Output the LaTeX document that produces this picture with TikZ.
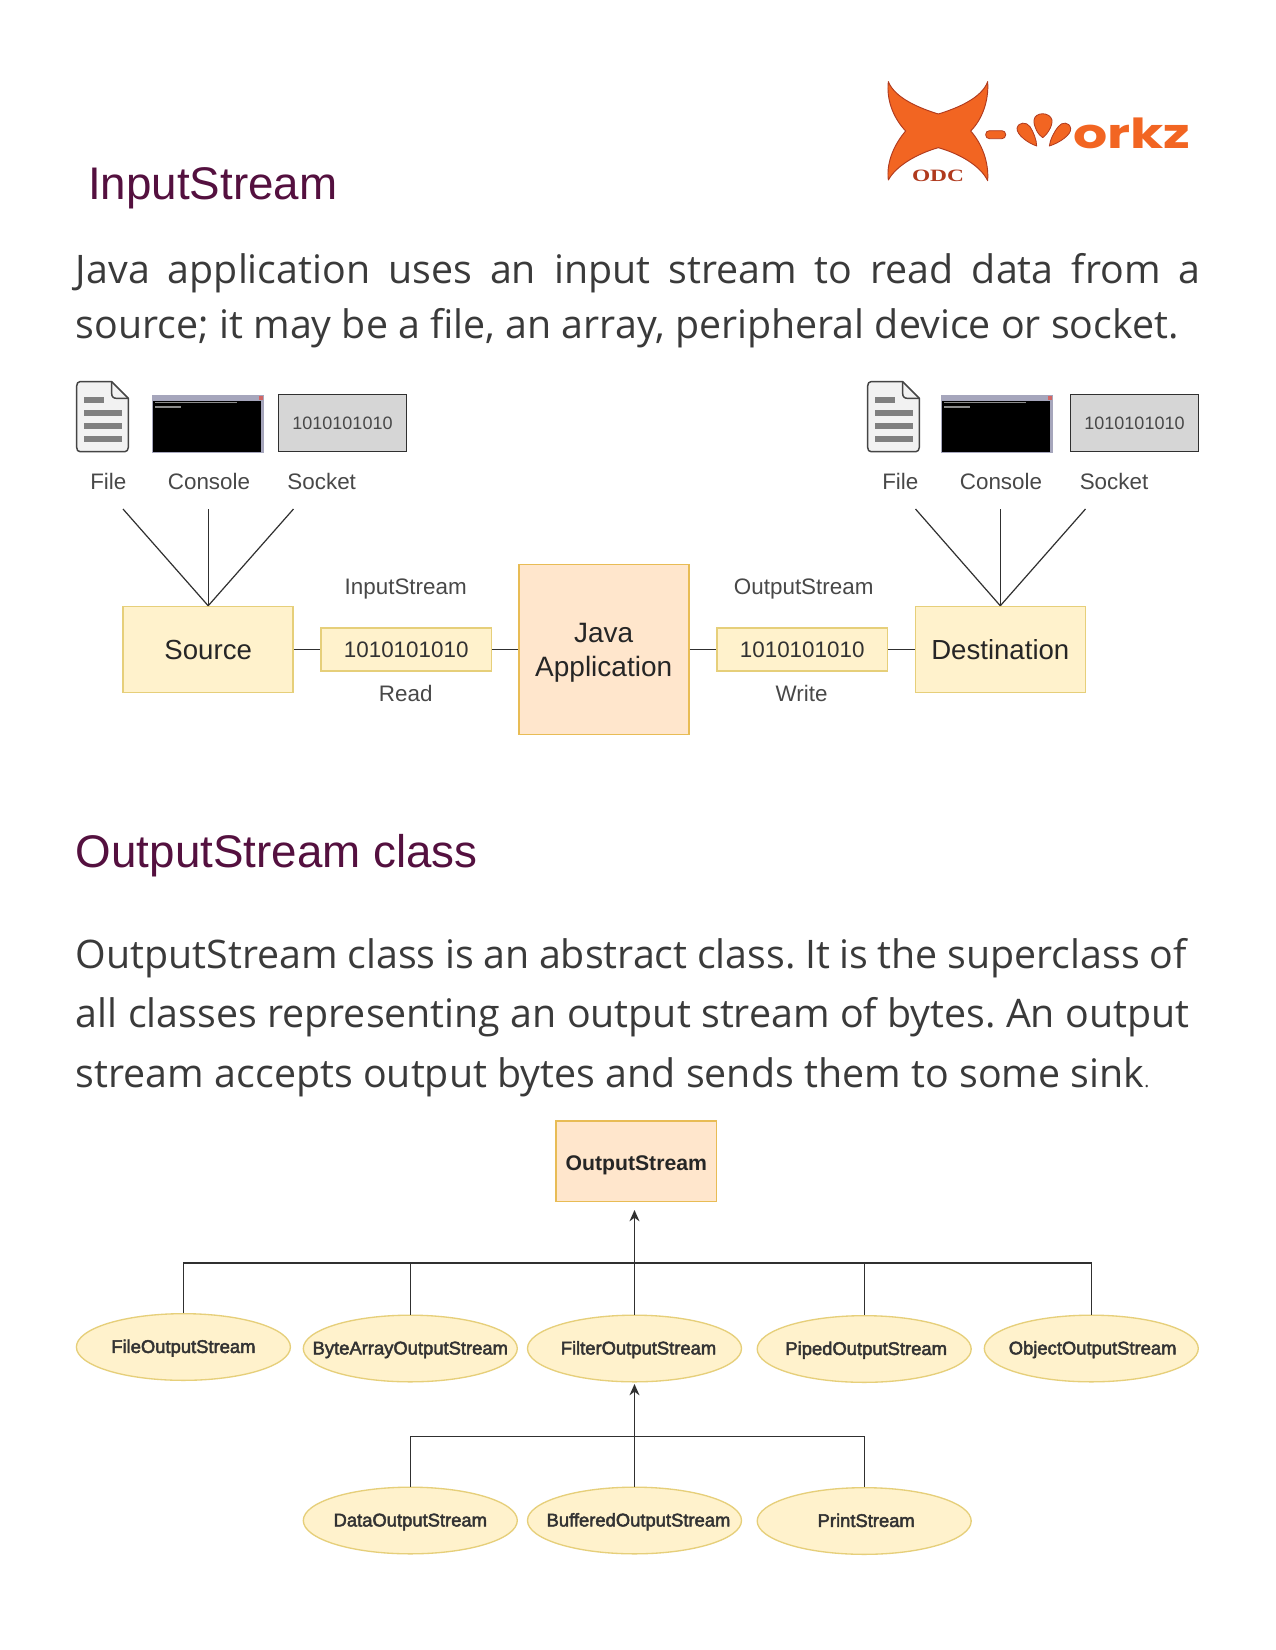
\documentclass[tikz,border=0pt]{standalone}
\usepackage{fontspec}
\usetikzlibrary{arrows.meta,shapes.geometric}
\setmainfont{Liberation Sans}
\newfontfamily\bodyfont{Open Sans}
\newfontfamily\medfont[FakeBold=2.5]{Liberation Sans}
\newfontfamily\logofont[Scale=1]{Poppins Bold}
\newfontfamily\odcfont{Liberation Serif Bold}
\definecolor{headc}{HTML}{54103F}
\definecolor{bodyc}{HTML}{3A3A3A}
\definecolor{labelc}{HTML}{484848}
\definecolor{yfill}{HTML}{FFF2CC}
\definecolor{ydraw}{HTML}{E6CF7A}
\definecolor{ofill}{HTML}{FFE6CC}
\definecolor{odraw}{HTML}{E8BC55}
\definecolor{linec}{HTML}{303030}
\definecolor{logoc}{HTML}{F26522}
\definecolor{logod}{HTML}{B03A1E}
\newcommand{\elltext}[2][0pt]{\makebox[0pt]{\hspace{#1}#2}}
\tikzset{
  x=0.75pt,y=-0.75pt,
  heading/.style={anchor=base west,inner sep=0,text=headc,font=\fontsize{34.3}{40}\selectfont},
  bodyline/.style={anchor=base west,inner sep=0,text=bodyc,font=\bodyfont\fontsize{29.5}{36}\selectfont\frenchspacing},
  lbl/.style={inner sep=0,text=labelc,font=\fontsize{16.8}{20}\selectfont},
  yellowbox/.style={draw=ydraw,fill=yfill,line width=1.1pt,inner sep=0,align=center,text=black!85},
  orangebox/.style={draw=odraw,fill=ofill,line width=1.2pt,inner sep=0,align=center,text=black!85},
  ell/.style={ellipse,draw=ydraw,fill=yfill,line width=1pt,inner sep=0,minimum width=160.5pt,minimum height=50pt,text height=11.5pt,text depth=2.6pt,text=black!80,font=\medfont\fontsize{13.8}{16}\selectfont},
  conn/.style={draw=linec,line width=0.9pt},
  arrowconn/.style={conn,-{Stealth[length=8.5pt,width=7.5pt]}},
  fileicon/.pic={
    \begin{scope}[x=0.25pt,y=-0.25pt]
      \path[draw=linec!90,fill=black!5,line width=1.1pt,line join=round]
        (60,65) -- (155,65) -- (205,115) -- (205,262) .. controls (205,270) and (200,275) .. (195,275)
        -- (60,275) .. controls (54,275) and (50,270) .. (50,262) -- (50,78) .. controls (50,70) and (54,65) .. (60,65) -- cycle;
      \draw[linec!90,line width=1.1pt,line join=round] (155,65) -- (155,100) .. controls (155,110) and (160,115) .. (170,115) -- (205,115);
      \fill[black!50] (72,111) rectangle (132,129);
      \fill[black!50] (72,149) rectangle (185,167);
      \fill[black!50] (72,188) rectangle (185,206);
      \fill[black!50] (72,227) rectangle (185,245);
    \end{scope}
  },
  consoleicon/.pic={
    \begin{scope}[x=0.25pt,y=-0.25pt]
      \fill[blue!25!black!35] (275,105) rectangle (612,278);
      \fill[black] (279,122) rectangle (603,275);
      \fill[red!70!black!60] (598,107) rectangle (610,120);
      \fill[black!45] (284,125) rectangle (530,130);
      \fill[black!45] (284,139) rectangle (362,144);
    \end{scope}
  }
}
\begin{document}
\begin{tikzpicture}
\useasboundingbox (0,0) rectangle (1275,1650);
\fill[white] (0,0) rectangle (1275,1650);

% logo
\begin{scope}[shift={(840,60)},x=0.25pt,y=-0.25pt]
  \path[fill=logoc,draw=logod,line width=0.7pt,line join=round]
    (145,65) .. controls (165,115) and (240,145) .. (295,162)
    .. controls (350,145) and (425,115) .. (443,65)
    .. controls (447,125) and (425,180) .. (392,213)
    .. controls (425,250) and (447,305) .. (443,362)
    .. controls (420,315) and (355,280) .. (295,263)
    .. controls (235,280) and (170,315) .. (145,360)
    .. controls (138,305) and (165,250) .. (197,213)
    .. controls (165,180) and (138,125) .. (145,65) -- cycle;
  \path[fill=logoc,draw=logod,line width=0.6pt,rounded corners=2.8pt] (437,212) rectangle (497,236);
  \path[fill=logoc,draw=logod,line width=0.6pt,line join=round]
    (531,205) .. controls (535,185) and (560,185) .. (570,200) .. controls (580,215) and (590,240) .. (590,258)
    .. controls (565,250) and (530,225) .. (531,205) -- cycle;
  \path[fill=logoc,draw=logod,line width=0.6pt,line join=round]
    (582,180) .. controls (585,155) and (630,155) .. (636,180) .. controls (638,200) and (620,225) .. (608,233)
    .. controls (595,225) and (580,200) .. (582,180) -- cycle;
  \path[fill=logoc,draw=logod,line width=0.6pt,line join=round]
    (692,205) .. controls (688,185) and (665,185) .. (655,200) .. controls (642,215) and (630,240) .. (628,258)
    .. controls (655,250) and (695,225) .. (692,205) -- cycle;
  \node[inner sep=0,text=logod] (odc) at (294,347) {\odcfont\scalebox{1.35}[1]{\fontsize{13}{15}\selectfont ODC}};
\end{scope}
\node[anchor=base west,inner sep=0,text=logoc] (orkz) at (1073,148) {\logofont\scalebox{1.3}[1]{\fontsize{31}{34}\selectfont orkz}};

% headings and paragraphs
\node[heading] (h1) at (88,199) {InputStream};
\node[bodyline] (p1a) at (75.7,283) {\makebox[843.5pt][s]{Java application uses an input stream to read data from a}};
\node[bodyline] (p1b) at (75.7,338) {\makebox[827pt][s]{source; it may be a file, an array, peripheral device or socket.}};
\node[heading] (h2) at (75.7,867) {OutputStream class};
\node[bodyline] (p2a) at (75.7,968) {\makebox[833pt][s]{OutputStream class is an abstract class. It is the superclass of}};
\node[bodyline] (p2b) at (75.7,1027) {\makebox[835pt][s]{all classes representing an output stream of bytes. An output}};
\node[bodyline] (p2c) at (75.7,1087) {\makebox[805pt][s]{stream accepts output bytes and sends them to some sink{\fontsize{14}{16}\selectfont .}}};

% left sources
\pic at (60,360) {fileicon};
\pic at (60,360) {consoleicon};
\node[draw=linec,fill=black!16,line width=1pt,minimum width=96pt,minimum height=43pt,inner sep=0,text=labelc,font=\fontsize{13.5}{16}\selectfont] (sockL) at (342.5,423) {1010101010};
\node[lbl] (fileL) at (108.3,481) {File};
\node[lbl] (consL) at (209,481) {Console};
\node[lbl] (sockLbl) at (321.7,481) {Socket};

% right destinations
\pic at (851,360) {fileicon};
\pic at (849,360) {consoleicon};
\node[draw=linec,fill=black!16,line width=1pt,minimum width=96pt,minimum height=43pt,inner sep=0,text=labelc,font=\fontsize{13.5}{16}\selectfont] (sockR) at (1134.5,423) {1010101010};
\node[lbl] (fileR) at (900.3,481) {File};
\node[lbl] (consR) at (1001,481) {Console};
\node[lbl] (sockRLbl) at (1114,481) {Socket};

% stream row
\node[yellowbox,minimum width=127.5pt,minimum height=64.5pt,font=\fontsize{20.7}{25}\selectfont] (source) at (208.2,649.5) {Source};
\node[yellowbox,minimum width=128pt,minimum height=32pt,text=labelc!70!black,text height=12pt,text depth=0pt,font=\fontsize{16.8}{20}\selectfont] (binL) at (406.2,649.5) {1010101010};
\node[orangebox,minimum width=127.5pt,minimum height=127.5pt,font=\fontsize{21}{25.5}\selectfont] (java) at (603.7,649.5) {\rule{0pt}{20pt}Java\\Application};
\node[yellowbox,minimum width=128pt,minimum height=32pt,text=labelc!70!black,text height=12pt,text depth=0pt,font=\fontsize{16.8}{20}\selectfont] (binR) at (802.2,649.5) {1010101010};
\node[yellowbox,minimum width=127.5pt,minimum height=64.5pt,font=\fontsize{20.7}{25}\selectfont] (dest) at (1000.3,649.5) {Destination};
\node[lbl] (isl) at (405.7,589) {InputStream};
\node[lbl] (read) at (405.7,693) {Read};
\node[lbl] (osl) at (803.7,589) {OutputStream};
\node[lbl] (write) at (801.6,693) {Write};

\coordinate (la) at (123,509);
\coordinate (lb) at (208.2,509);
\coordinate (lc) at (293.5,509);
\coordinate (ra) at (915.5,509);
\coordinate (rb) at (1000.3,509);
\coordinate (rc) at (1085.5,509);
\draw[conn] (la) -- (source.north);
\draw[conn] (lb) -- (source.north);
\draw[conn] (lc) -- (source.north);
\draw[conn] (ra) -- (dest.north);
\draw[conn] (rb) -- (dest.north);
\draw[conn] (rc) -- (dest.north);
\draw[conn] (source) -- (binL);
\draw[conn] (binL) -- (java);
\draw[conn] (java) -- (binR);
\draw[conn] (binR) -- (dest);

% hierarchy
\node[orangebox,minimum width=120.3pt,minimum height=60.5pt,text height=14.4pt,text depth=0pt,font=\bfseries\fontsize{15.9}{19}\selectfont] (ostream) at (636.3,1161.3) {OutputStream};
\node[ell] (fos) at (183.4,1347) {\elltext{FileOutputStream}};
\node[ell] (baos) at (410.3,1348.5) {\elltext{ByteArrayOutputStream}};
\node[ell] (filos) at (634.5,1348.5) {\elltext[6pt]{FilterOutputStream}};
\node[ell] (pos) at (864.2,1349) {\elltext[3pt]{PipedOutputStream}};
\node[ell] (oos) at (1091.3,1348.5) {\elltext[2pt]{ObjectOutputStream}};
\node[ell] (dos) at (410.3,1520.5) {\elltext{DataOutputStream}};
\node[ell] (bos) at (634.5,1520.5) {\elltext[6pt]{BufferedOutputStream}};
\node[ell] (ps) at (864.2,1521) {\elltext[3pt]{PrintStream}};

\coordinate (bus1) at (634.5,1263);
\coordinate (tip1) at (634.5,1210);
\coordinate (bus2) at (634.5,1436.7);
\coordinate (tip2) at (634.5,1384);
\draw[conn] (fos.north) -- (fos.north |- bus1) -- (oos.north |- bus1) -- (oos.north);
\draw[conn] (baos.north) -- (baos.north |- bus1);
\draw[conn] (pos.north) -- (pos.north |- bus1);
\draw[arrowconn] (filos.north) -- (tip1);
\draw[conn] (dos.north) -- (dos.north |- bus2) -- (ps.north |- bus2) -- (ps.north);
\draw[arrowconn] (bos.north) -- (tip2);
\end{tikzpicture}
\end{document}
